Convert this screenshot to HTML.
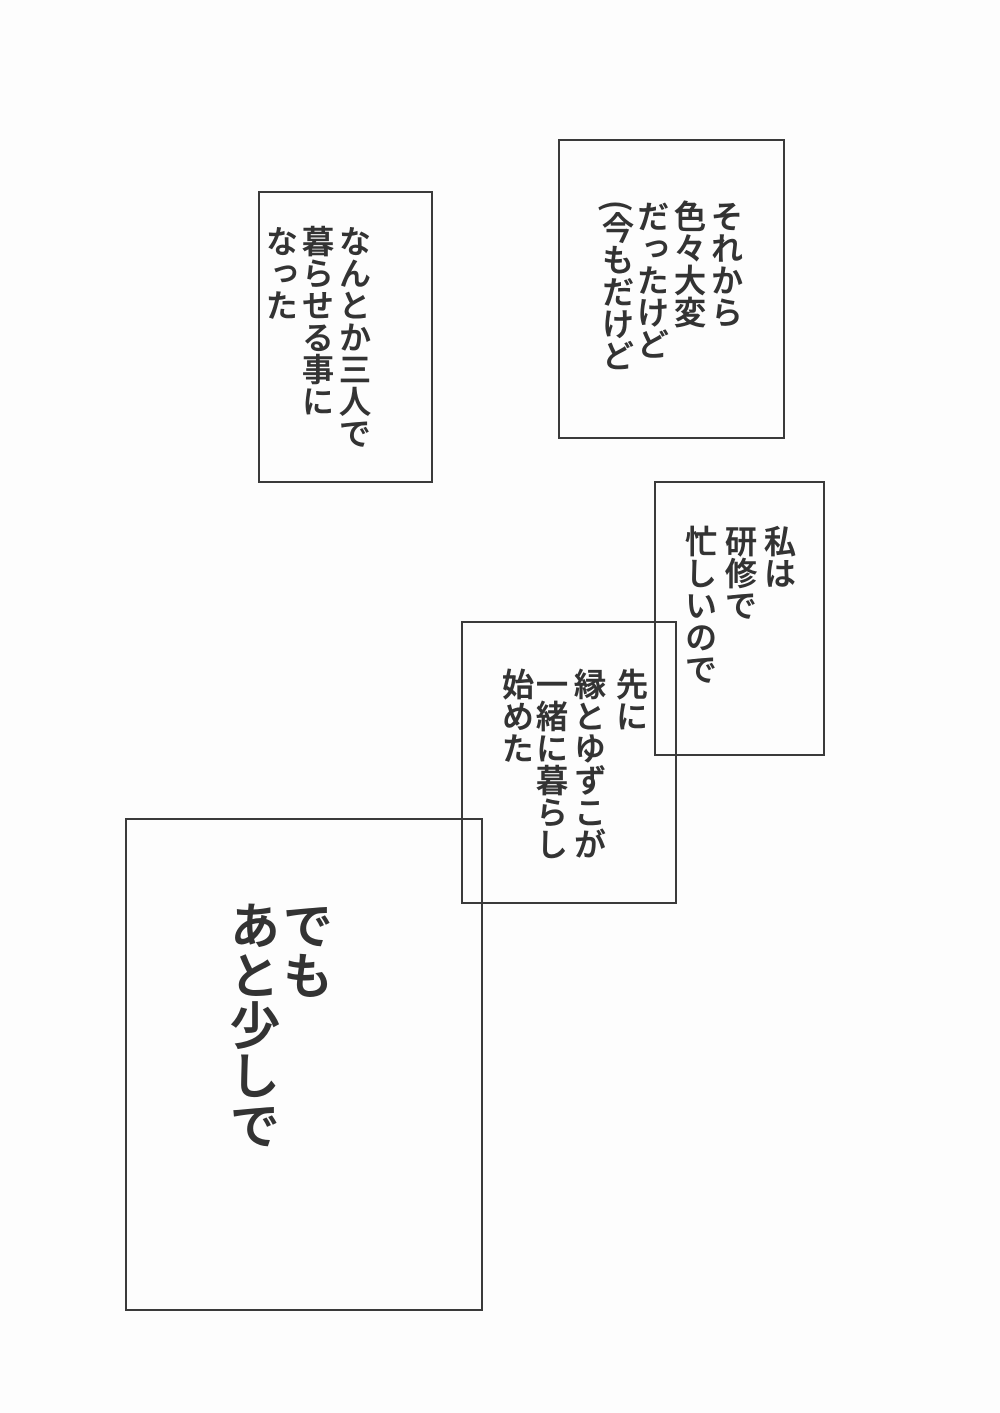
<!DOCTYPE html>
<html><head><meta charset="utf-8"><style>
body{margin:0;background:#fff;}
#p{position:relative;width:1000px;height:1413px;background:#fdfdfd;overflow:hidden;font-family:"Noto Sans CJK JP","WenQuanYi Zen Hei",sans-serif;color:#333;}
.b{position:absolute;border:2.5px solid #3a3a3a;box-sizing:border-box;}
.c{position:absolute;writing-mode:vertical-rl;font-size:32px;line-height:32px;font-weight:500;-webkit-text-stroke:0.6px #333;white-space:nowrap;}
.L{font-size:50px;line-height:50px;-webkit-text-stroke:0.9px #333;}
</style></head><body><div id="p">
<div class="b" style="left:558px;top:139px;width:227px;height:300px"></div>
<div class="c" style="left:711px;top:200px">それから</div>
<div class="c" style="left:674px;top:200px">色々大変</div>
<div class="c" style="left:637px;top:200px">だったけど</div>
<div class="c" style="left:602px;top:200px">(今もだけど</div>

<div class="b" style="left:258px;top:191px;width:175px;height:292px"></div>
<div class="c" style="left:339px;top:225px">なんとか三人で</div>
<div class="c" style="left:302px;top:225px">暮らせる事に</div>
<div class="c" style="left:266px;top:225px">なった</div>

<div class="b" style="left:654px;top:481px;width:171px;height:275px"></div>
<div class="c" style="left:764px;top:525px">私は</div>
<div class="c" style="left:725px;top:525px">研修で</div>
<div class="c" style="left:685px;top:525px">忙しいので</div>

<div class="b" style="left:461px;top:621px;width:216px;height:283px"></div>
<div class="c" style="left:616px;top:668px">先に</div>
<div class="c" style="left:574px;top:668px">縁とゆずこが</div>
<div class="c" style="left:536px;top:668px">一緒に暮らし</div>
<div class="c" style="left:502px;top:668px">始めた</div>

<div class="b" style="left:125px;top:818px;width:358px;height:493px"></div>
<div class="c L" style="left:283px;top:900px">でも</div>
<div class="c L" style="left:230px;top:900px">あと少しで</div>
</div></body></html>
